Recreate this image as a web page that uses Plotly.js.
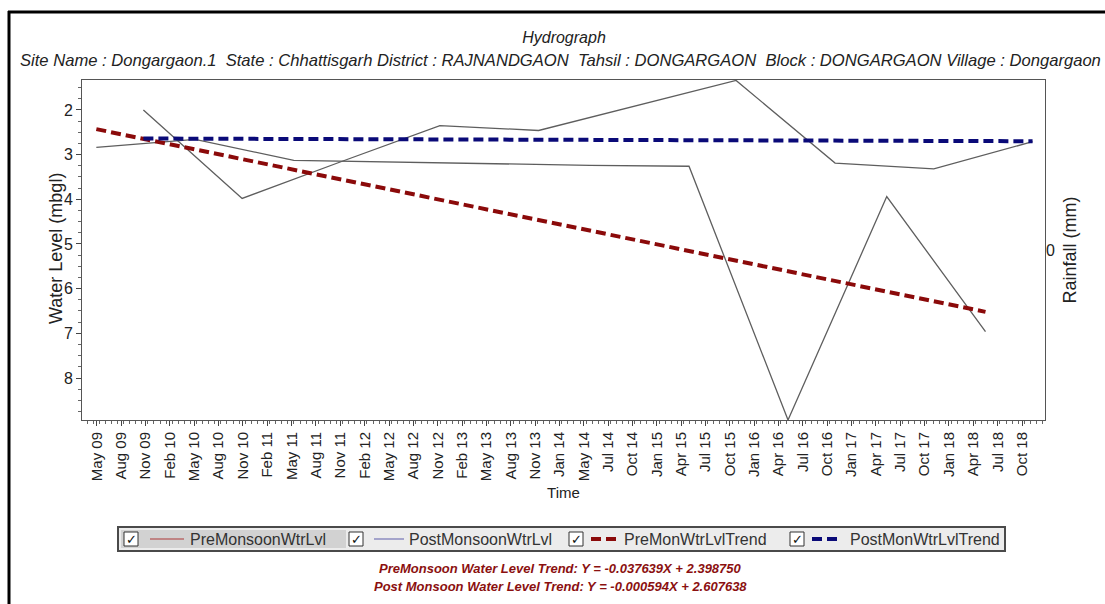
<!DOCTYPE html>
<html>
<head>
<meta charset="utf-8">
<script src="https://cdn.plot.ly/plotly-3.0.1.min.js"></script>
<style>
  html, body { margin: 0; padding: 0; background: #ffffff; }
  #chart { width: 1105px; height: 604px; }
</style>
</head>
<body>
<div id="chart"></div>
<script>
// ---- data ----
const preDates  = ['2009-05-25','2010-05-25','2011-05-25','2012-05-25','2013-05-25','2014-05-25','2015-05-25','2016-05-25','2017-05-25','2018-05-25'];
const preLevels = [2.84, 2.66, 3.13, 3.17, 3.21, 3.24, 3.26, 8.94, 3.94, 6.96];
const postDates  = ['2009-11-15','2010-11-15','2011-11-15','2012-11-15','2013-11-15','2014-11-15','2015-11-15','2016-11-15','2017-11-15','2018-11-15'];
const postLevels = [2.00, 3.98, 3.16, 2.35, 2.46, 1.90, 1.34, 3.19, 3.32, 2.71];
const preTrendDates  = ['2009-05-25','2018-05-25'];
const preTrendLevels = [2.43, 6.52];
const postTrendDates  = ['2009-11-15','2018-11-15'];
const postTrendLevels = [2.64, 2.70];
const yTickVals = [2, 3, 4, 5, 6, 7, 8];
const legendNames = ['PreMonsoonWtrLvl', 'PostMonsoonWtrLvl', 'PreMonWtrLvlTrend', 'PostMonWtrLvlTrend'];
const titleText = 'Hydrograph';
const subtitleText = 'Site Name : Dongargaon.1  State : Chhattisgarh District : RAJNANDGAON  Tahsil : DONGARGAON  Block : DONGARGAON Village : Dongargaon';
const yTitleText = 'Water Level (mbgl)';
const eqPre  = 'PreMonsoon Water Level Trend: Y = -0.037639X + 2.398750';
const eqPost = 'Post Monsoon Water Level Trend: Y = -0.000594X + 2.607638';

// ---- layout geometry (pixels) ----
const W = 1105, H = 604, L = 82, R = 1045, T = 80, B = 420;
const px = x => (x - L) / (R - L);
const py = y => (B - y) / (B - T);
const FONT = 'Liberation Sans, Arial, sans-serif';
const DAY = 86400000;

const lineGray = '#5e5e5e';
const preTrendColor = '#8b0a0a';
const postTrendColor = '#0a0a78';

const traces = [
  { x: preDates, y: preLevels, type: 'scatter', mode: 'lines', name: legendNames[0],
    line: { color: lineGray, width: 1.3 }, showlegend: false },
  { x: postDates, y: postLevels, type: 'scatter', mode: 'lines', name: legendNames[1],
    line: { color: lineGray, width: 1.3 }, showlegend: false },
  { x: preTrendDates, y: preTrendLevels, type: 'scatter', mode: 'lines', name: legendNames[2],
    line: { color: preTrendColor, width: 4, dash: '10px,5px' }, showlegend: false },
  { x: postTrendDates, y: postTrendLevels, type: 'scatter', mode: 'lines', name: legendNames[3],
    line: { color: postTrendColor, width: 4, dash: '10px,5px' }, showlegend: false },
  { x: [], y: [], yaxis: 'y2', type: 'scatter', mode: 'lines', showlegend: false, hoverinfo: 'skip' }
];

// ---- manual legend (checkbox style) ----
const shapes = [];
const annotations = [];

// outer black frame of the picture
shapes.push({ type: 'line', xref: 'paper', yref: 'paper', x0: px(8), x1: px(1105), y0: py(12), y1: py(12), line: { color: '#000', width: 3 } });
shapes.push({ type: 'line', xref: 'paper', yref: 'paper', x0: px(9), x1: px(9), y0: py(11), y1: py(604), line: { color: '#000', width: 3 } });

// legend box
shapes.push({ type: 'rect', xref: 'paper', yref: 'paper', x0: px(118), x1: px(1005), y0: py(551), y1: py(527),
  fillcolor: '#ececec', line: { color: '#4a4a4a', width: 2 } });
shapes.push({ type: 'rect', xref: 'paper', yref: 'paper', x0: px(121), x1: px(346), y0: py(548), y1: py(530),
  fillcolor: '#d2d2d2', line: { width: 0 } });

const items = [
  { box: 124, lx0: 150, lx1: 184, tx: 188, color: '#b86a6a', dash: 'solid', w: 1.5 },
  { box: 349, lx0: 374, lx1: 404, tx: 407, color: '#8c8cc0', dash: 'solid', w: 1.5 },
  { box: 569, lx0: 591, lx1: 619, tx: 622, color: preTrendColor, dash: '10px,5px', w: 4 },
  { box: 790, lx0: 812, lx1: 841, tx: 848, color: postTrendColor, dash: '10px,5px', w: 4 }
];
items.forEach((it, i) => {
  shapes.push({ type: 'rect', xref: 'paper', yref: 'paper', x0: px(it.box), x1: px(it.box + 14), y0: py(546), y1: py(532),
    fillcolor: '#ffffff', line: { color: '#333', width: 1 } });
  annotations.push({ xref: 'paper', yref: 'paper', x: px(it.box + 7), y: py(539), text: '✓', showarrow: false,
    xanchor: 'center', yanchor: 'middle', font: { family: 'DejaVu Sans', size: 13, color: '#111' } });
  shapes.push({ type: 'line', xref: 'paper', yref: 'paper', x0: px(it.lx0), x1: px(it.lx1), y0: py(539), y1: py(539),
    line: { color: it.color, width: it.w, dash: it.dash } });
  annotations.push({ xref: 'paper', yref: 'paper', x: px(it.tx), y: py(539), text: legendNames[i], showarrow: false,
    xanchor: 'left', yanchor: 'middle', font: { family: FONT, size: 16, color: '#333' } });
});

// subtitle, y title and trend equations
annotations.push({ xref: 'paper', yref: 'paper', x: px(560), y: py(60), text: subtitleText, showarrow: false,
  xanchor: 'center', yanchor: 'middle', font: { family: FONT, size: 16.6, color: '#222', style: 'italic' } });
annotations.push({ xref: 'paper', yref: 'paper', x: px(56), y: py(249), text: yTitleText, showarrow: false, textangle: -90,
  xanchor: 'center', yanchor: 'middle', font: { family: FONT, size: 18, color: '#222' } });
annotations.push({ xref: 'paper', yref: 'paper', x: px(560), y: py(568), text: eqPre, showarrow: false,
  xanchor: 'center', yanchor: 'middle', font: { family: FONT, size: 13, color: '#8b1010', style: 'italic', weight: 'bold' } });
annotations.push({ xref: 'paper', yref: 'paper', x: px(560), y: py(586), text: eqPost, showarrow: false,
  xanchor: 'center', yanchor: 'middle', font: { family: FONT, size: 13, color: '#8b1010', style: 'italic', weight: 'bold' } });

const layout = {
  width: W, height: H,
  margin: { l: L, r: W - R, t: T, b: H - B, pad: 0 },
  paper_bgcolor: '#ffffff', plot_bgcolor: '#ffffff',
  font: { family: FONT, color: '#222' },
  title: { text: titleText, x: 564 / W, xanchor: 'center', y: 1 - 37 / H, yanchor: 'middle',
    font: { family: FONT, size: 16, color: '#222', style: 'italic' } },
  showlegend: false,
  xaxis: {
    type: 'date', range: ['2009-04-02', '2018-12-31'],
    tick0: '2009-05-27', dtick: 90 * DAY, tickformat: '%b %y', tickangle: -90,
    ticks: 'outside', ticklen: 5, tickcolor: '#444', tickfont: { family: FONT, size: 15, color: '#222' },
    minor: { dtick: 22.5 * DAY, ticks: 'outside', ticklen: 3, tickcolor: '#666', showgrid: false },
    showgrid: false, zeroline: false, showline: true, mirror: true, linecolor: '#555', linewidth: 1,
    title: { text: 'Time', standoff: 7, font: { family: FONT, size: 15, color: '#222' } }
  },
  yaxis: {
    range: [8.94, 1.33], tickvals: yTickVals, ticks: 'outside', ticklen: 5, tickcolor: '#444',
    tickfont: { family: FONT, size: 16, color: '#222' },
    minor: { dtick: 0.25, ticks: 'outside', ticklen: 3, tickcolor: '#666', showgrid: false },
    showgrid: false, zeroline: false, showline: true, mirror: true, linecolor: '#555', linewidth: 1
  },
  yaxis2: {
    overlaying: 'y', side: 'right', range: [-1, 1], tickvals: [0], ticktext: ['0'], ticks: '',
    showgrid: false, zeroline: false, showline: false,
    tickfont: { family: FONT, size: 16, color: '#222' },
    title: { text: 'Rainfall (mm)', standoff: 9, font: { family: FONT, size: 18, color: '#222' } }
  },
  shapes: shapes,
  annotations: annotations
};

Plotly.newPlot('chart', traces, layout, { staticPlot: true, displayModeBar: false });
</script>
</body>
</html>
